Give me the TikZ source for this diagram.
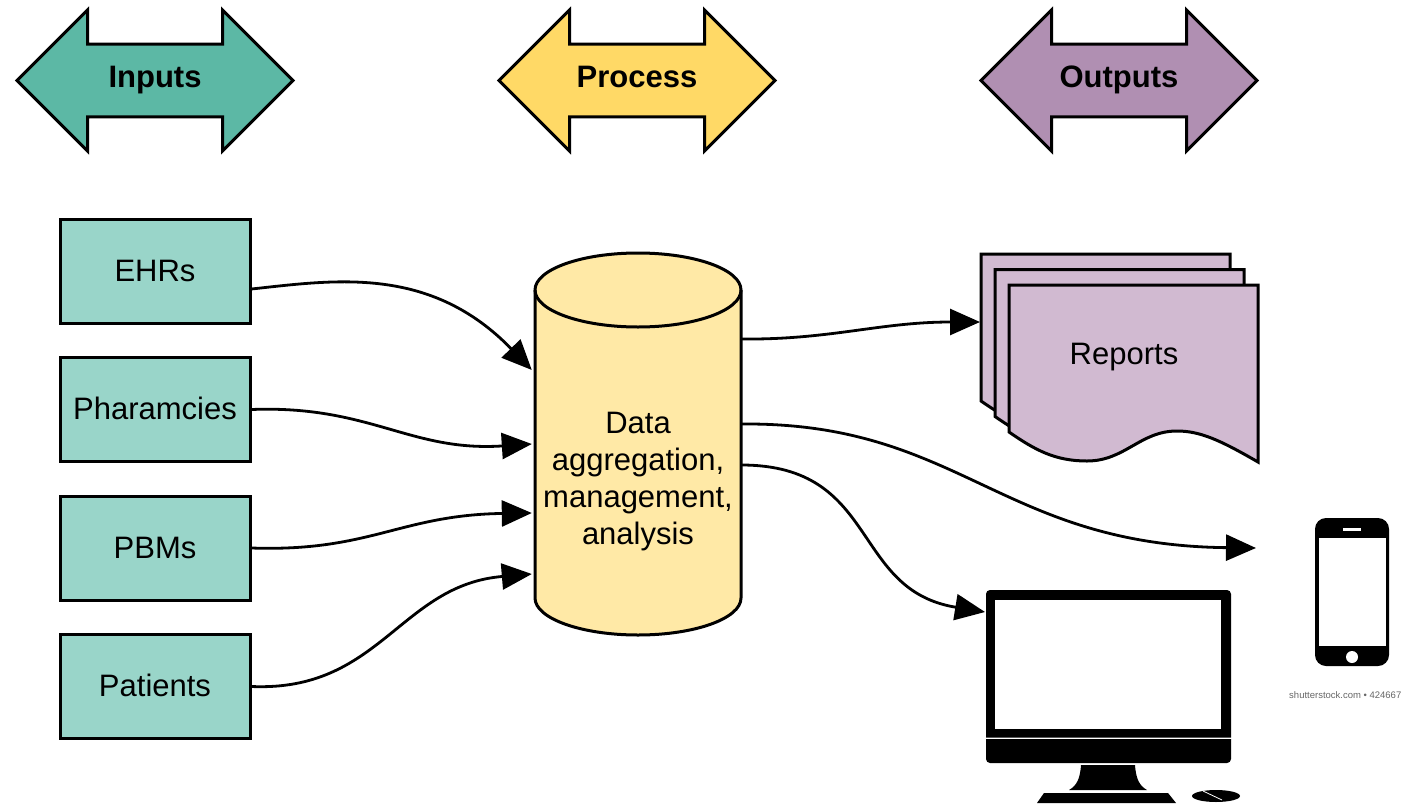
\documentclass[tikz,border=0pt]{standalone}
\usepackage{fontspec}
\setmainfont{Liberation Sans}
\usetikzlibrary{shapes.arrows,arrows.meta}
\definecolor{inGreen}{HTML}{5CB8A5}
\definecolor{boxGreen}{HTML}{99D5C9}
\definecolor{procYellow}{HTML}{FFD966}
\definecolor{cylYellow}{HTML}{FFE9A6}
\definecolor{outPurple}{HTML}{B08FB2}
\definecolor{docPurple}{HTML}{D1BAD1}
\tikzset{
  bigarrow/.style={draw, line width=3, double arrow, double arrow head extend=16,
    double arrow tip angle=90, minimum height=276, minimum width=141, inner sep=0,
    text height=22, text depth=9, font=\fontsize{31}{37}\selectfont\bfseries},
  sourcebox/.style={draw, line width=3, fill=boxGreen, minimum width=190, minimum height=104,
    inner sep=0, text height=20, text depth=0, font=\fontsize{31}{37}\selectfont},
  flow/.style={line width=2.8, -{Triangle[length=30,width=26]}},
  bodytext/.style={inner sep=0, align=center, font=\fontsize{31}{37}\selectfont}
}
\begin{document}
\begin{tikzpicture}[x=1pt,y=-1pt]
\useasboundingbox (0,0) rectangle (1402,803);

% header arrows
\node [bigarrow, fill=inGreen] (inputs) at (155,80.5) {Inputs};
\node [bigarrow, fill=procYellow] (process) at (637,80.5) {Process};
\node [bigarrow, fill=outPurple] (outputs) at (1119,80.5) {Outputs};

% input boxes
\node [sourcebox] (ehrs) at (155,271) {EHRs};
\node [sourcebox] (pharmacies) at (155,409.5) {Pharamcies};
\node [sourcebox] (pbms) at (155,548) {PBMs};
\node [sourcebox] (patients) at (155,686.5) {Patients};

% data store
\node [minimum width=206, minimum height=382, inner sep=0] (store) at (638,444) {};
\draw [line width=3, fill=cylYellow] (535,290) -- (535,598)
  arc [start angle=180, end angle=360, x radius=103, y radius=-37] -- (741,290)
  arc [start angle=0, end angle=180, x radius=103, y radius=-37] -- cycle;
\draw [line width=3] (535,290) arc [start angle=180, end angle=360, x radius=103, y radius=-37];
\node [bodytext] (storetext) at (638,482) {Data\\aggregation,\\management,\\analysis};

% stacked report sheets
\foreach \dx/\dy in {-28/-31, -14/-15.5, 0/0}{
  \draw [line width=3, fill=docPurple, shift={(\dx,\dy)}] (1009,285) -- (1258,285) -- (1258,462)
    .. controls (1220,440) and (1200,431) .. (1177,431)
    .. controls (1140,431) and (1125,461) .. (1087,461)
    .. controls (1055,461) and (1035,450) .. (1009,432) -- cycle;
}
\node [bodytext] (reports) at (1124,357) {Reports};

% monitor
\fill (986,737.5) [rounded corners=4] -- (986,590) -- (1231,590) [sharp corners] -- (1231,737.5) -- cycle;
\fill [white] (995,600) rectangle (1221,729);
\fill (986,739) -- (1231,739) [rounded corners=4] -- (1231,763) -- (986,763) [sharp corners] -- cycle;
\fill (1081,765) .. controls (1080,780) and (1076,786) .. (1069,790) -- (1147,790)
  .. controls (1140,786) and (1136,780) .. (1135,765) -- cycle;
\fill (1044,793) -- (1168,793) -- (1176,803) -- (1037,803) -- cycle;
\fill (1216,796) ellipse [x radius=24, y radius=6];
\draw [white, line width=0.8] (1203,791) -- (1222,800);

% phone
\fill [rounded corners=11] (1315,518) rectangle (1389,666);
\fill [white] (1319,538) rectangle (1386,646);
\fill [white] (1343,528) rectangle (1361,530.5);
\fill [white] (1352,657) circle [radius=6];
\node [inner sep=0, text=black!60, font=\fontsize{9.5}{11}\selectfont, anchor=west] (credit) at (1289,695) {shutterstock.com • 424667};

% free ends of the arrows
\coordinate (monitorin) at (985,612);
\coordinate (phonein) at (1256,548);
\coordinate (reportsin) at (980,322);

% inputs to store
\draw [flow] ([yshift=-18]ehrs.east) .. controls (335,280) and (430,265) .. ([xshift=-3,yshift=74]store.west);
\draw [flow] (pharmacies.east) .. controls (370,405) and (410,452) .. ([xshift=-3]store.west);
\draw [flow] (pbms.east) .. controls (370,552) and (400,515) .. ([xshift=-3,yshift=-69]store.west);
\draw [flow] (patients.east) .. controls (380,692) and (400,585) .. ([xshift=-3,yshift=-130]store.west);

% store to outputs
\draw [flow] ([yshift=105]store.east) .. controls (830,340) and (880,322) .. (reportsin);
\draw [flow] ([yshift=20]store.east) .. controls (960,422) and (1000,545) .. (phonein);
\draw [flow] ([yshift=-21]store.east) .. controls (880,465) and (850,590) .. (monitorin);
\end{tikzpicture}
\end{document}
